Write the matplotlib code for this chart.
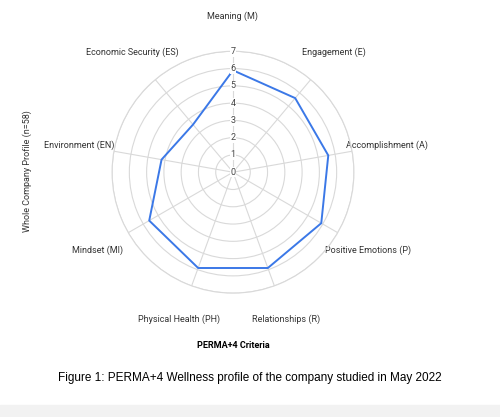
import numpy as np
import matplotlib
matplotlib.use("Agg")
import matplotlib.pyplot as plt

categories = ["Meaning (M)", "Engagement (E)", "Accomplishment (A)", "Positive Emotions (P)",
              "Relationships (R)", "Physical Health (PH)", "Mindset (MI)", "Environment (EN)",
              "Economic Security (ES)"]
values = [5.9, 5.6, 5.6, 5.9, 5.9, 5.9, 5.6, 4.2, 3.6]
rticks = [0, 1, 2, 3, 4, 5, 6, 7]

plt.rcParams['font.family'] = ['Roboto', 'DejaVu Sans']
fig = plt.figure(figsize=(5, 4.17), dpi=100)
ax = fig.add_axes([0.224, 0.297, 0.484, 0.580], projection='polar')
n = len(categories)
ang = np.arange(n) * 2 * np.pi / n
ax.set_theta_zero_location('N')
ax.set_theta_direction(-1)
ax.plot(np.append(ang, ang[0]), values + [values[0]], color='#3b78e7', lw=1.4)
ax.set_ylim(0, 7)
ax.set_yticks(rticks)
ax.set_yticklabels([])
for r in rticks:
    ax.text(0, r, str(r), ha='center', va='center', fontsize=6.5, color='#444',
            bbox=dict(facecolor='white', edgecolor='none', pad=0.5))
ax.set_xticks(ang)
ax.set_xticklabels(categories, fontsize=6.5, color='#333')
ax.tick_params(axis='x', pad=15)
ax.grid(color='#d9d9d9', lw=0.8)
ax.spines['polar'].set_color('#d9d9d9')
ax.set_facecolor('white')

fig.text(0.055, 0.59, "Whole Company Profile (n=58)", rotation=90, ha='center', va='center',
         fontsize=6.5, color='#333')
fig.text(0.466, 0.172, "PERMA+4 Criteria", ha='center', va='center', fontsize=6.5,
         fontweight='bold')
fig.text(0.5, 0.093, "Figure 1: PERMA+4 Wellness profile of the company studied in May 2022",
         ha='center', va='center', fontsize=8.5, family=['Liberation Sans', 'DejaVu Sans'])
fig.patches.append(plt.Rectangle((0, 0), 1, 0.028, transform=fig.transFigure, color='#f2f2f2'))
fig.savefig("out.png", dpi=100)
